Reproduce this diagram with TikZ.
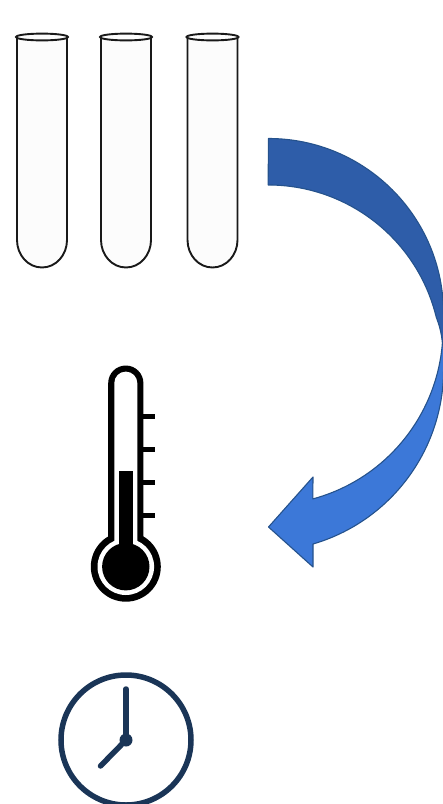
\documentclass[tikz,border=0pt]{standalone}
\usepackage{tikz}
\definecolor{tubefill}{HTML}{FCFCFC}
\definecolor{arrowdark}{HTML}{2E5DA9}
\definecolor{arrowlight}{HTML}{3C78D8}
\definecolor{arrowedge}{HTML}{25528C}
\definecolor{clockblue}{HTML}{1A3557}
\begin{document}
\begin{tikzpicture}[
  x=1pt, y=-1pt,
  tube/.style={draw=black!90, line width=1.9pt, fill=tubefill},
  band/.style={draw=arrowedge, line width=1.1pt, line join=round},
  ink/.style={fill=black, draw=none},
  gap/.style={fill=white, draw=none},
  tick/.style={draw=black, line width=5pt},
  hand/.style={draw=clockblue, line width=5.5pt, line cap=round}]

  \useasboundingbox (0,0) rectangle (443,804);
  \clip (0,0) rectangle (443,804);

  % test tubes
  \foreach \cx in {42,126,212.5} {
    \draw[tube] (\cx-25,37) -- (\cx-25,240)
      .. controls (\cx-25,255) and (\cx-14,267.5) .. (\cx,267.5)
      .. controls (\cx+14,267.5) and (\cx+25,255) .. (\cx+25,240) -- (\cx+25,37);
    \draw[tube] (\cx,37) ellipse (26 and 3.4);
  }

  % curved arrow, upper half
  \draw[band, fill=arrowdark] (268.5,138.5)
    arc[start angle=-90, end angle=0, radius=175]
    -- (446,343.1) -- (442.4,343.1)
    .. controls (441.5,333) and (439.3,325) .. (436.2,317)
    arc[start angle=-13.7, end angle=-90, radius=173] -- cycle;
  % curved arrow, lower half
  \draw[band, fill=arrowlight] (442.4,343.1)
    arc[start angle=4.6, end angle=74.9, radius=176]
    -- (313,477) -- (268.5,527) -- (313,567) -- (313,544)
    arc[start angle=73.7, end angle=0, radius=181.5]
    -- (446,343.1) -- cycle;

  % thermometer
  \fill[ink] (125.8,566.7) circle (35);
  \fill[ink] (108.2,560) -- (108.2,383.1)
    arc[start angle=180, end angle=360, radius=17.6] -- (143.4,560) -- cycle;
  \fill[gap] (125.8,566.7) circle (28.3);
  \fill[gap] (114.3,560) -- (114.3,383.1)
    arc[start angle=180, end angle=360, radius=11.5] -- (137.3,560) -- cycle;
  \fill[ink] (125.8,566.7) circle (23.7);
  \fill[ink] (119.3,471) rectangle (132.7,560);
  \foreach \ty in {416.7,449.3,482.3,515} {
    \draw[tick] (143,\ty) -- (155,\ty);
  }

  % clock
  \draw[draw=clockblue, line width=5.5pt] (126,740) circle (65);
  \draw[hand] (126,740) -- (126,689);
  \draw[hand] (126,740) -- (100.5,766);
  \fill[clockblue] (126,740) circle (6.5);
\end{tikzpicture}
\end{document}
